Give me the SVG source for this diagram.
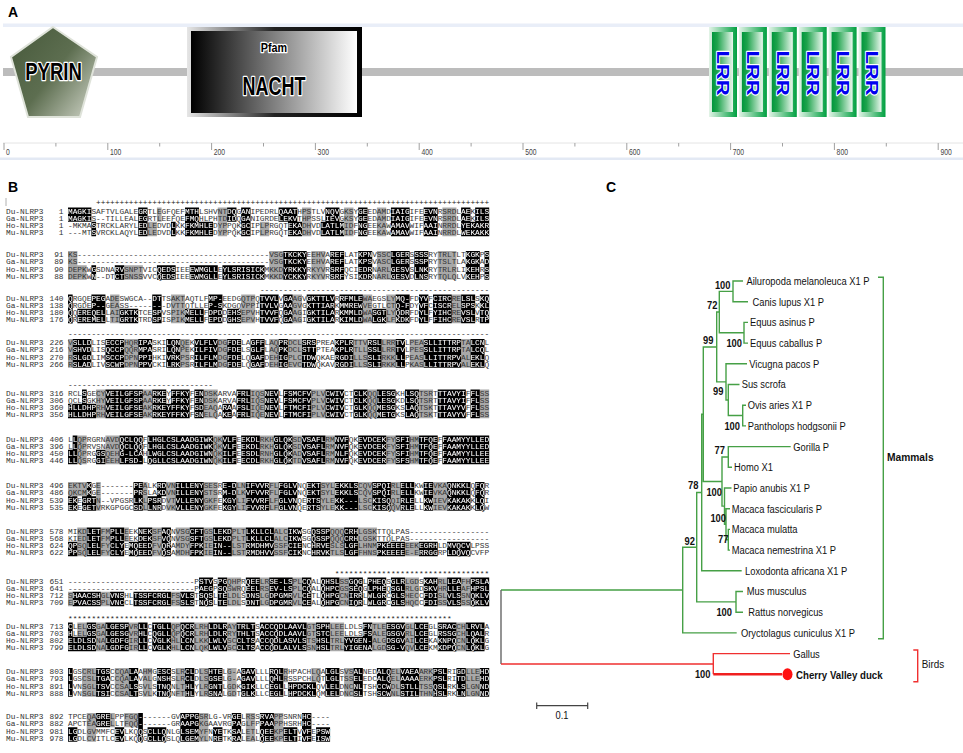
<svg xmlns="http://www.w3.org/2000/svg" width="963" height="753" viewBox="0 0 963 753">
<style>
.lab{font-family:"Liberation Sans",Arial,sans-serif;font-weight:bold;font-size:14px;fill:#000}
.sq{font-family:"Liberation Mono","Courier New",monospace;font-size:7.8px}
.nm{font-family:"Liberation Mono","Courier New",monospace;font-size:7.8px;fill:#333}
.mk{font-family:"Liberation Mono","Courier New",monospace;font-size:7.8px;fill:#222}
.tk{stroke:#a0a0a0;stroke-width:1}
.rl{font-family:"Liberation Sans",Arial,sans-serif;font-size:8.5px;fill:#444}
.g{stroke:#46a046;stroke-width:1.4;fill:none}
.r{stroke:#f03030;stroke-width:1.4;fill:none}
.sp{font-family:"Liberation Sans",Arial,sans-serif;font-size:11px;fill:#111}
.bs{font-family:"Liberation Sans",Arial,sans-serif;font-size:11px;font-weight:bold;fill:#111;text-anchor:end}
.ol{stroke:#fff;stroke-width:2.5;paint-order:stroke;stroke-linejoin:round}
.dom{font-family:"Liberation Sans",Arial,sans-serif;font-weight:bold;fill:#000;text-anchor:middle}
.lrr{font-family:"Liberation Sans",Arial,sans-serif;font-weight:bold;font-size:22px;fill:#0000ee;text-anchor:middle}
</style>
<defs>
<linearGradient id="pyr" x1="0" y1="0.2" x2="1" y2="1"><stop offset="0" stop-color="#4a5c3e"/><stop offset="0.45" stop-color="#5d6e50"/><stop offset="1" stop-color="#d4d8cc"/></linearGradient>
<linearGradient id="nf" x1="0" y1="0" x2="1" y2="0"><stop offset="0" stop-color="#e6e6e6"/><stop offset="0.5" stop-color="#222"/><stop offset="1" stop-color="#000"/></linearGradient>
<linearGradient id="ni" x1="0" y1="0" x2="1" y2="0"><stop offset="0" stop-color="#000"/><stop offset="1" stop-color="#fff"/></linearGradient>
<linearGradient id="lo" x1="0" y1="0" x2="1" y2="0"><stop offset="0" stop-color="#e4f4e8"/><stop offset="1" stop-color="#00a040"/></linearGradient>
<linearGradient id="li" x1="0" y1="0" x2="1" y2="0"><stop offset="0" stop-color="#00963c"/><stop offset="0.25" stop-color="#1ea34c"/><stop offset="1" stop-color="#eaf7ee"/></linearGradient>
<g id="bk">
<path transform="translate(68 207.4) scale(4.68 7.2)" d="M0 0h5v2h-5zM5 2h1v2h-1zM15 0h2v4h-2zM22 2h1v2h-1zM25 0h3v4h-3zM28 2h3v2h-3zM34 0h2v2h-2zM37 0h2v4h-2zM45 0h4v2h-4zM47 2h3v2h-3zM54 2h5v2h-5zM55 0h3v2h-3zM62 0h2v4h-2zM69 0h4v4h-4zM76 0h3v4h-3zM84 0h2v4h-2zM86 2h4v2h-4zM87 0h3v2h-3z"/>
<path transform="translate(68 250.9) scale(4.68 7.2)" d="M5 2h1v2h-1zM10 2h2v2h-2zM19 2h4v2h-4zM26 2h6v2h-6zM33 2h9v2h-9zM46 0h5v4h-5zM56 0h3v4h-3zM62 0h3v4h-3zM69 0h4v4h-4zM74 0h3v4h-3zM85 0h3v4h-3zM89 0h1v4h-1z"/>
<path transform="translate(68 294.4) scale(4.68 7.2)" d="M0 0h1v4h-1zM2 2h3v2h-3zM5 0h3v4h-3zM11 2h4v2h-4zM18 0h2v4h-2zM25 2h4v2h-4zM30 0h3v4h-3zM34 2h3v2h-3zM41 0h4v4h-4zM46 0h2v4h-2zM51 0h6v4h-6zM58 0h5v4h-5zM65 2h3v2h-3zM70 0h3v4h-3zM75 0h2v4h-2zM78 0h4v4h-4zM84 0h3v4h-3zM88 0h2v4h-2z"/>
<path transform="translate(68 338.9) scale(4.68 7.2)" d="M1 0h4v4h-4zM8 0h4v4h-4zM15 0h3v4h-3zM21 0h3v4h-3zM27 0h5v4h-5zM34 0h3v4h-3zM39 0h3v4h-3zM45 0h2v4h-2zM50 0h3v4h-3zM57 0h4v4h-4zM64 0h3v4h-3zM70 0h2v4h-2zM76 0h8v4h-8zM86 0h3v4h-3z"/>
<path transform="translate(68 389.4) scale(4.68 7.2)" d="M0 2h6v2h-6zM3 0h1v2h-1zM8 0h8v4h-8zM18 0h3v4h-3zM21 2h1v2h-1zM22 0h4v4h-4zM27 0h2v4h-2zM33 2h2v2h-2zM36 0h3v4h-3zM42 0h3v4h-3zM46 0h6v4h-6zM55 0h4v4h-4zM61 0h3v4h-3zM66 0h4v4h-4zM72 0h3v4h-3zM79 0h6v4h-6zM86 0h2v4h-2z"/>
<path transform="translate(68 435.4) scale(4.68 7.2)" d="M0 2h1v2h-1zM1 0h1v4h-1zM6 2h2v2h-2zM11 0h5v4h-5zM17 0h14v4h-14zM33 0h3v4h-3zM37 0h4v4h-4zM44 0h4v4h-4zM50 0h5v4h-5zM57 0h3v4h-3zM62 0h6v4h-6zM70 0h3v4h-3zM75 0h4v4h-4zM80 0h10v4h-10z"/>
<path transform="translate(68 481.9) scale(4.68 7.2)" d="M0 2h2v2h-2zM3 2h3v2h-3zM4 0h1v2h-1zM14 0h2v4h-2zM17 2h3v2h-3zM19 0h2v2h-2zM23 0h6v4h-6zM33 0h3v4h-3zM38 0h5v4h-5zM45 0h4v4h-4zM51 0h3v4h-3zM57 0h5v4h-5zM65 0h4v4h-4zM71 0h3v4h-3zM76 0h2v4h-2zM81 0h5v4h-5zM87 0h2v4h-2z"/>
<path transform="translate(68 527.4) scale(4.68 7.2)" d="M0 2h2v2h-2zM4 0h3v4h-3zM9 0h3v4h-3zM13 2h2v2h-2zM15 0h3v4h-3zM20 0h2v4h-2zM26 0h3v4h-3zM31 0h4v4h-4zM38 0h6v4h-6zM47 0h3v4h-3zM52 0h4v4h-4zM59 0h3v4h-3zM66 2h6v2h-6zM75 2h4v2h-4zM81 2h5v2h-5z"/>
<path transform="translate(68 577.4) scale(4.68 7.2)" d="M1 2h6v2h-6zM9 2h3v2h-3zM14 2h8v2h-8zM24 2h3v2h-3zM28 0h3v4h-3zM32 0h2v4h-2zM38 0h3v4h-3zM43 0h5v4h-5zM50 0h2v4h-2zM54 0h4v4h-4zM60 0h3v4h-3zM64 0h4v4h-4zM69 0h3v4h-3zM76 0h3v4h-3zM81 0h3v4h-3zM86 0h4v4h-4z"/>
<path transform="translate(68 622.4) scale(4.68 7.2)" d="M0 0h1v2h-1zM0 2h4v2h-4zM4 0h2v4h-2zM8 0h5v4h-5zM15 0h2v4h-2zM18 0h4v4h-4zM24 0h3v4h-3zM30 0h4v4h-4zM36 0h4v4h-4zM41 0h10v4h-10zM53 0h3v4h-3zM59 2h4v2h-4zM63 0h2v4h-2zM68 0h4v4h-4zM74 0h3v4h-3zM79 0h4v4h-4zM85 0h4v4h-4z"/>
<path transform="translate(68 667.9) scale(4.68 7.2)" d="M0 0h1v4h-1zM6 0h3v4h-3zM13 0h2v4h-2zM19 0h3v4h-3zM25 0h2v4h-2zM30 0h3v4h-3zM37 0h3v4h-3zM43 0h3v4h-3zM47 2h6v2h-6zM55 0h3v4h-3zM61 0h2v4h-2zM66 0h3v4h-3zM71 0h4v4h-4zM78 0h3v4h-3zM83 0h2v4h-2zM88 0h2v4h-2z"/>
<path transform="translate(68 712.9) scale(4.68 7.2)" d="M0 2h2v2h-2zM6 0h3v2h-3zM10 2h2v2h-2zM15 0h1v4h-1zM17 2h4v2h-4zM24 0h4v4h-4zM31 2h2v2h-2zM35 0h2v4h-2zM41 0h3v4h-3zM46 2h3v2h-3zM50 0h2v4h-2zM53 2h3v2h-3z"/>
</g>
<mask id="bm" maskUnits="userSpaceOnUse" x="0" y="0" width="963" height="753"><use href="#bk" fill="#fff"/></mask>
<g id="seq" class="sq">
<text x="68" y="213.6">MAGKISAFTVLGALEGRTLEGFQEFMTHLSHVNTDQGANIPEDRLQAATHPSTLVNQVGKSYGEEDAMDIAIGIFEEVNRSRDLAEKILS</text>
<text x="68" y="220.8">MAGKIS--TILLEALEGRTLEEFQEFMQHLPHTDIDQGANIGRDELEKVTHPSSLIEVGKSYGEEDAMDIAIGIFEEVNRSRDLAEKILS</text>
<text x="68" y="228">-MKMASTRCKLARYLEDLEDVDLKKFKMHLEDYPPQKGCIPLPRGQTEKADHVDLATLMIDFNGEEKAWAMAVWIFAAINRRDLYEKAKR</text>
<text x="68" y="235.2">---MTSVRCKLAQYLEDLEDVDLKKFKMHLEDYPPQKGCIPLPRGQTEKADHVDLATLMIDFNGEEKAWAMAVWIFAAINRRDLWEKAKK</text>
<text x="68" y="257.1">KS-----------------------------------------VSGTKCKYEEHVAREFLATKPNVSSCLGERSSSSRYTRLTLTKGKPS</text>
<text x="68" y="264.3">KS-----------------------------------------VSGTKCKYEEHVAREFLATKPSVASCLGERSSSPRYTSLTLAKGKAD</text>
<text x="68" y="271.5">DEPKWGSDNARVSNPTVICQEDSIEEEWMGLLEYLSRISICKMKKDYRKKYRKYVRSRFQCIEDRNARLGESVSLNKRYTRLRLIKEHRS</text>
<text x="68" y="278.7">DEPKWN--DTCTSNSSVVCQEDSIEEEWMGLLEYLSRISICKMKKDYCKKYRKYVRSRFYSIKDRNARLGESVDLNSRYTQLQLVKEHPS</text>
<text x="68" y="300.6">QRGQEPEGADESWGCA--DTTSAKTAQTLFMP-EEDGQTPQTVVLVGAAGVGKTTLVRRFMLEWAEGSLYMQ-FDYVFCIRCRELSLSKQ</text>
<text x="68" y="307.8">QRGDEP--GEASS--------DVTTQTLLEP-SKDGQVPPITVLVGAAGVGKTTIARKMMREWVEGTLCTQ-FDYVFCISCRELSPSKKL</text>
<text x="68" y="315">QQEREQELLAIGKTKTCESPVSPIKMELLFDPDDEHSEPVHTVVFQGAAGIGKTILARKMMLDWASGTLYQDRFDYLFYIHCREVSLVTQ</text>
<text x="68" y="322.2">QREREMELLTIGRTKTRDSPISPIKMELLFEPDDGHSEPVHTVVFQGAAGIGKTILARKIMLDWALGKLFKDKFDYLFFIHCREVSLRTP</text>
<text x="68" y="345.1">VSLLDLISECCPHQRIPASKILQNQEKVLFLVDGFDELAGFFLAQPRDCLSRSPREAKPLRTTVRSLLRRTVLPEASLLITTRPTALCNL</text>
<text x="68" y="352.3">VSHVDLISQCCPQQRMPASRILQNPEKILFIVDGFDELSGLFLAQPKDCLSTTPTEAKPLRTLLSSLLRRTVLPESSLLITTRPTALCQL</text>
<text x="68" y="359.5">RSLGDLIMSCCPDPNPPIHKIVRKPSRILFLMDGFDELQGAFDEHIGPLCTDWQKAERGDILLSSLIRKKLLPEASLLITTRPVALEKLQ</text>
<text x="68" y="366.7">RSLADLIVSCWPDPNPPVCKILRKPSRILFLMDGFDELQGAFDEHIGEVCTDWQKAVRGDILLSSLIRKKLLPKASLLITTRPVALEKLQ</text>
<text x="68" y="395.6">RCLSGECYVEILGFSPAARKEYFFKYFENDSKARVAFRLIQSNEVLFSMCFVPLVCWIVCTCLKQQLESGKHLSQTSRTTTAVYIFFLSS</text>
<text x="68" y="402.8">QCLSGKHYVEILGFSPAARKEYFFKYFENDSKARVAFRLIQSNEVLFSMCFVPLVCWIVCTCLKQQLESGKDLSQTSRTTTAVYIFFLSS</text>
<text x="68" y="410">HLLDHPRHVEILGFSEAKRKEYFFKYFSDEAQARAAFSLIQENEVLFTMCFIPLVCWIVCTGLKQQMESGKSLAQTSKTTTAVYVFFLSS</text>
<text x="68" y="417.2">HLLDHPRHVEILGFSEAKRKEYFFKYFSNELQAKEAFRLIQENEVLFTMCFIPLVCWIVCTGLKQQMETGKSLAQTSKTTTAVYVFFLSS</text>
<text x="68" y="441.6">LLQPRGRNAVDQCLQQFLHGLCSLAADGIWKQKVLFEEKDLRKHGLQKSDVSAFLRMNVFQKEVDCEKFYSFIHMTFQEFFAAMYYLLED</text>
<text x="68" y="448.8">LLQPRVSNAVDQCLQQFLHGLCSLAADGIWKQKVLFEEKDLRKHGLQKSDVSAFLRMNVFQKEVDCEKFYSFIHMTFQEFFAAMYYLLED</text>
<text x="68" y="456">LLQPRGGSQEHG-LCAHLWGLCSLAADGIWNQKILFEESDLRNHGLQKADVSAFLRMNLFQKEVDCEKFYSFIHMTFQEFFAAMYYLLEE</text>
<text x="68" y="463.2">LLQSRGGIEEHLFSD-LQGLLCSLAADGIWNQKILFEECDLRKHGLQKTDVSAFLRMNVFQKEVDCERFYSFSHMTFQEFFAAMYYLLEE</text>
<text x="68" y="488.1">EKTVKGE-------PEALKRDVNILLENYSESRE-DLNIFVVRFLFGLVNQEKTSYLEKKLSCQVSPQIRLELLKWIEVKAQNKKLQFQR</text>
<text x="68" y="495.3">QKCMKGE-------PRSLAKDVNILLENYSTSRM-DLKVFVVRFLFGLVNQEKTSYLEKKLSCQVSPQIRLELLKWIEVKAQNKKLQFQR</text>
<text x="68" y="502.5">EKEGRTN--VPGSRLKLPSRDVTVLLENYGKFEKGYLIFVVRFLFGLVNQERTSYLEKK---LSCKISQQIRLELLKWIEVKAKAKKLQI</text>
<text x="68" y="509.7">EKEGETVRKGPGGCSDLLNRDVKVLLENYGKFEKGYLIFVVRFLFGLVNQERTSYLEKK---LSCKISQQVRLELLKWIEVKAKAKKLQW</text>
<text x="68" y="533.6">MIKDLETFMPLLEEKNEKSFAQNVSGCFTGSLEKDPLTLKLLCLALCIKWSGQSSPQQQCRHLGSKTTQLPAS-----------------</text>
<text x="68" y="540.8">KIEDLETFMPLLEEKDEKSFVQNVSGSFTGSLEKDPLTLKLLCLALCIKWSGQSSPQQQCRHLGSKTTQLPAS-----------------</text>
<text x="68" y="548">QPSQLELFYCLYEMQEEDFVQRAMDYFPKIEIN--LSTRMDHMVSSFCIENCHRVESLSLGFLHNMPKEEEEEEKEGRHLDMVQCVLPSS</text>
<text x="68" y="555.2">PPSQLELFYCLYEMQEEDFVQSAMDHFPKIEIN--LSTRMDHVVSSFCIKNCHRVKTLSLGFFHNSPKEEEEE-ERRGGRPLDQVQCVFP</text>
<text x="68" y="583.6">---------------------------PSTVSPGQHPRQEELRSE-LSPLCQALQHSLSSGQGLPHEQSGLRLGDSKAHRLLEAFHPSLA</text>
<text x="68" y="590.8">---------------------------PAEGPSQSWRQEELRSEV-LSPLCQALQHPCGSSEQGLPHEQSGLRLGDSKVHRLLEAFHPSL</text>
<text x="68" y="598">SHAACSHGLVNSHLTSSFCRGLFSVLSTSQSLTELDLSDNSLGDPGMRVLCETLQHPGCNIRRLWLGRCGLSHECCFDISLVLSSNQKLV</text>
<text x="68" y="605.2">EPVACSSPLVNCCLTSSFCRGLFSSLSTNQSLTELDLSDNTLGDPGMRVLCEALQHPGCNIQRLWLGRCGLSHQCCFDISSVLSSSQKLV</text>
<text x="68" y="628.6">CLELGSGALGESPVRLLCTGLLQPQCRLRHLDLRAYTRLTSACCQDLAAVLGTSPHLEELDLSFNTLEESGVGLLCEGLSRACCHLRVLA</text>
<text x="68" y="635.8">HLELGSGALGESGVRHLCQGLLQPQCRLRHLDLRRYTHLTSACCQDLAAVLGTSTCLEELDLSFSALEGSGVRLLCEGLRSSGCHLQALR</text>
<text x="68" y="643">ELDLSDNALGDFGIRLLCVGLKHLLCNLKKLWLVSCCLTSACCQDLASVLSTSHSLTRLYVGEN-ALGDSGVAILCEKAKNPQCNLQKLG</text>
<text x="68" y="650.2">ELDLSDNALGDFGIRLLCVGLKHLLCNLQKLWLVSCCLTSACCQDLALVLSSNHSLTRLYIGENALGDSG-VQVLCEKMKDPQCNLQKLG</text>
<text x="68" y="674.1">LGSCRLTGSCCQALAAHMGESCSLRCLDLSHTELG-AGAVLLLRQLRHPACHLQALGLSVSALNEDALQELVAEAARKPSLRIGDLLEHD</text>
<text x="68" y="681.3">LGSCSLTGACCQALAVALGNSHSLRCLDLSGSELG-AGAVLLLQHLRSSPCHLQTLGLTSSELEDCALQELAAAAERKPSLRITDLLEHD</text>
<text x="68" y="688.5">LVNSGLTSVCCSALSSVLSTNQNLTHLYLRGNTLGDKGIKLLCEGLLHPDCKLQVLELDNCNLTSHCCWDLSTLLTSSQSLRKLSLGNND</text>
<text x="68" y="695.7">LVNSGLTSICCSALTSVLKTNQNFTHLYLRSNALGDTGLKLLCEGLLHPDCKLQMLELDNCSLTSHSCWNLSTILTHNHSLRKLNLGNND</text>
<text x="68" y="719.1">TPCEQAGRELPPFGQ-------GVAPPGSRLG-VRGELRSSRVAPPSNRNHC----</text>
<text x="68" y="726.3">APCTEAGRELLTFQQ-------GRAAPGKGAAVRGPAGLFPPAAPPHSRHHC----</text>
<text x="68" y="733.5">LGDLGVMMFCEVLKQQSCLLQNLGLSEMYFNYETKSALETLQEEKPELTVVFEPSW</text>
<text x="68" y="740.7">LGDLCVITLCEVLKQQGCLLQSLQLGEMYLNRETKRALEALQEEKPELTIVFEISW</text>
</g>
</defs>

<rect width="963" height="753" fill="#fff"/>

<g id="panelA">
<text class="lab" x="8" y="17">A</text>
<rect x="3" y="23.5" width="960" height="3.5" fill="#e9eef8"/>
<rect x="3" y="68" width="960" height="8" fill="#bcbcbc"/>
<line x1="3" y1="143" x2="963" y2="143" stroke="#e4e4e4"/>
<rect x="0" y="157.5" width="963" height="2.5" fill="#e3e9f4"/>
<g id="ruler">
<path class="tk" d="M4 143v7M107.8 143v7M211.6 143v7M315.4 143v7M419.2 143v7M523 143v7M626.8 143v7M730.6 143v7M834.4 143v7M938.2 143v7M55.9 143v3.5M159.7 143v3.5M263.5 143v3.5M367.3 143v3.5M471.1 143v3.5M574.9 143v3.5M678.7 143v3.5M782.5 143v3.5M886.3 143v3.5"/>
<text class="rl" transform="translate(6 154.5) scale(.8 1)">0</text>
<text class="rl" transform="translate(110 154.5) scale(.8 1)">100</text>
<text class="rl" transform="translate(213.8 154.5) scale(.8 1)">200</text>
<text class="rl" transform="translate(317.6 154.5) scale(.8 1)">300</text>
<text class="rl" transform="translate(421.4 154.5) scale(.8 1)">400</text>
<text class="rl" transform="translate(525.2 154.5) scale(.8 1)">500</text>
<text class="rl" transform="translate(629 154.5) scale(.8 1)">600</text>
<text class="rl" transform="translate(732.8 154.5) scale(.8 1)">700</text>
<text class="rl" transform="translate(836.6 154.5) scale(.8 1)">800</text>
<text class="rl" transform="translate(940.4 154.5) scale(.8 1)">900</text>
</g>
<g id="pyrin">
<polygon points="53,27 97,57 80,117 28,117 11,57" fill="url(#pyr)" stroke="#dfe3da" stroke-width="2"/>
<text class="dom ol" font-size="23.5" transform="translate(53.5 80) scale(.79 1)">PYRIN</text>
</g>
<g id="nacht">
<rect x="187" y="27" width="175" height="90" fill="url(#nf)"/>
<rect x="191" y="31" width="166" height="82" fill="url(#ni)"/>
<text class="dom ol" font-size="12" transform="translate(274 51.5) scale(.9 1)">Pfam</text>
<text class="dom ol" font-size="25" transform="translate(274 94.5) scale(.72 1)">NACHT</text>
</g>
<g id="lrr1"><rect x="709" y="27" width="28" height="90" fill="url(#lo)"/><rect x="712" y="32" width="21" height="80" fill="url(#li)"/><text class="lrr ol" transform="translate(723 73) rotate(90) scale(1 .72)" y="7.9">LRR</text></g>
<g id="lrr2"><rect x="738.9" y="27" width="28" height="90" fill="url(#lo)"/><rect x="741.9" y="32" width="21" height="80" fill="url(#li)"/><text class="lrr ol" transform="translate(752.9 73) rotate(90) scale(1 .72)" y="7.9">LRR</text></g>
<g id="lrr3"><rect x="768.8" y="27" width="28" height="90" fill="url(#lo)"/><rect x="771.8" y="32" width="21" height="80" fill="url(#li)"/><text class="lrr ol" transform="translate(782.8 73) rotate(90) scale(1 .72)" y="7.9">LRR</text></g>
<g id="lrr4"><rect x="798.7" y="27" width="28" height="90" fill="url(#lo)"/><rect x="801.7" y="32" width="21" height="80" fill="url(#li)"/><text class="lrr ol" transform="translate(812.7 73) rotate(90) scale(1 .72)" y="7.9">LRR</text></g>
<g id="lrr5"><rect x="828.6" y="27" width="28" height="90" fill="url(#lo)"/><rect x="831.6" y="32" width="21" height="80" fill="url(#li)"/><text class="lrr ol" transform="translate(842.6 73) rotate(90) scale(1 .72)" y="7.9">LRR</text></g>
<g id="lrr6"><rect x="858.5" y="27" width="27" height="90" fill="url(#lo)"/><rect x="861.5" y="32" width="20" height="80" fill="url(#li)"/><text class="lrr ol" transform="translate(872 73) rotate(90) scale(1 .72)" y="7.9">LRR</text></g>
</g>

<g id="panelB">
<text class="lab" x="8" y="192">B</text>
<line x1="6" y1="198" x2="6" y2="206" stroke="#b0b0b0"/>
<g id="gray" fill="#a8a8a8">
<path transform="translate(68 207.4) scale(4.68 7.2)" d="M17 2h2v2h-2zM32 0h2v4h-2zM41 2h2v2h-2zM50 0h2v4h-2zM59 0h2v4h-2zM66 0h2v4h-2zM80 0h3v4h-3zM19 0h1v2h-1z"/>
<path transform="translate(68 250.9) scale(4.68 7.2)" d="M0 0h2v2h-2zM0 2h4v2h-4zM12 2h4v2h-4zM43 0h3v4h-3zM52 0h3v4h-3zM66 0h3v4h-3zM79 0h4v4h-4z"/>
<path transform="translate(68 294.4) scale(4.68 7.2)" d="M9 0h2v4h-2zM22 0h3v4h-3zM37 0h3v4h-3zM48 0h2v4h-2zM63 0h2v4h-2zM68 0h2v4h-2zM82 0h2v4h-2z"/>
<path transform="translate(68 338.9) scale(4.68 7.2)" d="M0 0h1v4h-1zM12 0h3v4h-3zM24 0h2v4h-2zM32 0h2v4h-2zM43 0h2v4h-2zM47 0h3v4h-3zM61 0h3v4h-3zM67 0h3v4h-3zM73 0h3v4h-3zM84 0h2v4h-2z"/>
<path transform="translate(68 389.4) scale(4.68 7.2)" d="M6 0h2v4h-2zM16 0h2v4h-2zM29 0h3v4h-3zM39 0h3v4h-3zM52 0h3v4h-3zM64 0h2v4h-2zM75 0h3v4h-3zM88 0h2v4h-2z"/>
<path transform="translate(68 435.4) scale(4.68 7.2)" d="M2 0h2v4h-2zM8 0h3v4h-3zM31 0h2v4h-2zM41 0h3v4h-3zM48 0h2v4h-2zM55 0h2v4h-2zM68 0h2v4h-2zM73 0h2v4h-2z"/>
<path transform="translate(68 481.9) scale(4.68 7.2)" d="M0 0h4v2h-4zM6 0h1v4h-1zM16 0h1v4h-1zM21 0h2v4h-2zM29 0h3v4h-3zM36 0h2v4h-2zM43 0h2v4h-2zM54 0h3v4h-3zM62 0h3v4h-3zM69 0h2v4h-2zM78 0h3v4h-3z"/>
<path transform="translate(68 527.4) scale(4.68 7.2)" d="M2 0h2v4h-2zM7 0h2v4h-2zM12 0h1v2h-1zM18 0h2v4h-2zM23 0h3v4h-3zM29 0h2v4h-2zM35 0h3v4h-3zM44 0h3v4h-3zM56 0h3v4h-3zM62 0h4v4h-4zM72 2h3v2h-3z"/>
<path transform="translate(68 577.4) scale(4.68 7.2)" d="M0 2h1v2h-1zM7 2h2v2h-2zM22 2h2v2h-2zM34 0h3v4h-3zM41 0h2v4h-2zM48 0h2v4h-2zM58 0h2v4h-2zM72 0h3v4h-3zM79 0h2v4h-2zM84 0h2v4h-2z"/>
<path transform="translate(68 622.4) scale(4.68 7.2)" d="M2 0h2v2h-2zM6 0h2v4h-2zM13 0h2v4h-2zM22 0h2v4h-2zM27 0h3v4h-3zM34 0h2v4h-2zM51 0h2v4h-2zM56 0h3v4h-3zM65 0h3v4h-3zM72 0h2v4h-2zM83 0h2v4h-2z"/>
<path transform="translate(68 667.9) scale(4.68 7.2)" d="M3 0h3v4h-3zM10 0h3v4h-3zM16 0h2v4h-2zM23 0h2v4h-2zM28 0h2v4h-2zM34 0h2v4h-2zM46 0h1v2h-1zM52 0h2v2h-2zM59 0h2v4h-2zM69 0h2v4h-2zM75 0h3v4h-3zM85 0h3v4h-3z"/>
<path transform="translate(68 712.9) scale(4.68 7.2)" d="M4 0h2v4h-2zM9 0h1v2h-1zM12 0h3v2h-3zM28 0h2v4h-2zM38 0h2v4h-2zM44 0h2v4h-2z"/>
</g>
<use href="#bk" fill="#000"/>
<use href="#seq" fill="#333"/>
<use href="#seq" fill="#fff" mask="url(#bm)"/>
<g id="markers" class="mk">
<text x="96.08" y="205">++++++++++++++++++++++++++++++++++++++++++++++++++++++++++++++++++++++++++++++++++++</text>
<text x="259.9" y="291.5">-------------------------------------------------</text>
<text x="68" y="336">------------------------------------------------------------------------------------------</text>
<text x="68" y="386.5">-------------------------------</text>
<text x="334.8" y="576">*********************************</text>
<text x="68" y="621">**********************************************************************************</text>
</g>
<g id="rowlabels" class="nm">
<text x="6" y="213.6">Du-NLRP3</text><text x="6" y="220.8">Ga-NLRP3</text><text x="6" y="228">Ho-NLRP3</text><text x="6" y="235.2">Mu-NLRP3</text>
<text x="6" y="257.1">Du-NLRP3</text><text x="6" y="264.3">Ga-NLRP3</text><text x="6" y="271.5">Ho-NLRP3</text><text x="6" y="278.7">Mu-NLRP3</text>
<text x="6" y="300.6">Du-NLRP3</text><text x="6" y="307.8">Ga-NLRP3</text><text x="6" y="315">Ho-NLRP3</text><text x="6" y="322.2">Mu-NLRP3</text>
<text x="6" y="345.1">Du-NLRP3</text><text x="6" y="352.3">Ga-NLRP3</text><text x="6" y="359.5">Ho-NLRP3</text><text x="6" y="366.7">Mu-NLRP3</text>
<text x="6" y="395.6">Du-NLRP3</text><text x="6" y="402.8">Ga-NLRP3</text><text x="6" y="410">Ho-NLRP3</text><text x="6" y="417.2">Mu-NLRP3</text>
<text x="6" y="441.6">Du-NLRP3</text><text x="6" y="448.8">Ga-NLRP3</text><text x="6" y="456">Ho-NLRP3</text><text x="6" y="463.2">Mu-NLRP3</text>
<text x="6" y="488.1">Du-NLRP3</text><text x="6" y="495.3">Ga-NLRP3</text><text x="6" y="502.5">Ho-NLRP3</text><text x="6" y="509.7">Mu-NLRP3</text>
<text x="6" y="533.6">Du-NLRP3</text><text x="6" y="540.8">Ga-NLRP3</text><text x="6" y="548">Ho-NLRP3</text><text x="6" y="555.2">Mu-NLRP3</text>
<text x="6" y="583.6">Du-NLRP3</text><text x="6" y="590.8">Ga-NLRP3</text><text x="6" y="598">Ho-NLRP3</text><text x="6" y="605.2">Mu-NLRP3</text>
<text x="6" y="628.6">Du-NLRP3</text><text x="6" y="635.8">Ga-NLRP3</text><text x="6" y="643">Ho-NLRP3</text><text x="6" y="650.2">Mu-NLRP3</text>
<text x="6" y="674.1">Du-NLRP3</text><text x="6" y="681.3">Ga-NLRP3</text><text x="6" y="688.5">Ho-NLRP3</text><text x="6" y="695.7">Mu-NLRP3</text>
<text x="6" y="719.1">Du-NLRP3</text><text x="6" y="726.3">Ga-NLRP3</text><text x="6" y="733.5">Ho-NLRP3</text><text x="6" y="740.7">Mu-NLRP3</text>
</g>
<g id="rownums" class="nm" text-anchor="end">
<text x="63.5" y="213.6">1</text><text x="63.5" y="220.8">1</text><text x="63.5" y="228">1</text><text x="63.5" y="235.2">1</text>
<text x="63.5" y="257.1">91</text><text x="63.5" y="264.3">89</text><text x="63.5" y="271.5">90</text><text x="63.5" y="278.7">88</text>
<text x="63.5" y="300.6">140</text><text x="63.5" y="307.8">138</text><text x="63.5" y="315">180</text><text x="63.5" y="322.2">176</text>
<text x="63.5" y="345.1">226</text><text x="63.5" y="352.3">216</text><text x="63.5" y="359.5">270</text><text x="63.5" y="366.7">266</text>
<text x="63.5" y="395.6">316</text><text x="63.5" y="402.8">306</text><text x="63.5" y="410">360</text><text x="63.5" y="417.2">356</text>
<text x="63.5" y="441.6">406</text><text x="63.5" y="448.8">396</text><text x="63.5" y="456">450</text><text x="63.5" y="463.2">446</text>
<text x="63.5" y="488.1">496</text><text x="63.5" y="495.3">486</text><text x="63.5" y="502.5">539</text><text x="63.5" y="509.7">535</text>
<text x="63.5" y="533.6">578</text><text x="63.5" y="540.8">568</text><text x="63.5" y="548">624</text><text x="63.5" y="555.2">622</text>
<text x="63.5" y="583.6">651</text><text x="63.5" y="590.8">641</text><text x="63.5" y="598">712</text><text x="63.5" y="605.2">709</text>
<text x="63.5" y="628.6">713</text><text x="63.5" y="635.8">703</text><text x="63.5" y="643">802</text><text x="63.5" y="650.2">799</text>
<text x="63.5" y="674.1">803</text><text x="63.5" y="681.3">793</text><text x="63.5" y="688.5">891</text><text x="63.5" y="695.7">888</text>
<text x="63.5" y="719.1">892</text><text x="63.5" y="726.3">882</text><text x="63.5" y="733.5">981</text><text x="63.5" y="740.7">978</text>
</g>
</g>

<g id="panelC">
<text class="lab" x="606" y="192">C</text>
<g id="connectors">
<path class="g" d="M743 281H733V301.7H748M748 322.4H744V343.1H748M733 291.35H719.3V332.75H744M746 405.2H742.7V425.9H746M739.5 384.5H728.3V415.55H742.7M747 363.8H726V400H728.3M719.3 312.05H716.7V381.9H726M790.7 446.6H728.3V467.3H732M730 529.4H728.3V550.1H730M730 508.7H726V539.75H728.3M731.5 488H724.5V524.2H726M728.3 456.95H722V506.1H724.5M716.7 347H703.3V481.5H722M703.3 414.25H701.7V570.8H741.7M743 591.5H736V612.2H743M701.7 492.5H696.7V601.85H736M696.7 547.2H682.7V632.9H736.7M682.7 590H501"/>
<path d="M501 590V663.95" stroke="#666" stroke-width="1.4" fill="none"/>
<path class="r" d="M501 663.95H713.3M790 653.6H713.3V674.3"/>
<path d="M713.3 674.3H782" stroke="#f02020" stroke-width="2.4" fill="none"/>
<path class="g" d="M878 277.3H883.3V638.7H878"/>
<path class="r" d="M913.3 650H917.7V681.7H913.3"/>
<path d="M536.7 705.7H587.7M536.7 702.5V709M587.7 702.5V709" stroke="#444" stroke-width="1.2" fill="none"/>
</g>
<g id="leaves" class="sp">
<text transform="translate(746.5 284.9) scale(.85 1)">Ailuropoda melanoleuca X1 P</text>
<text transform="translate(752.5 305.6) scale(.85 1)">Canis lupus X1 P</text>
<text transform="translate(750 326.3) scale(.85 1)">Equus asinus P</text>
<text transform="translate(750 347) scale(.85 1)">Equus caballus P</text>
<text transform="translate(749.3 367.7) scale(.85 1)">Vicugna pacos P</text>
<text transform="translate(741.7 388.4) scale(.85 1)">Sus scrofa</text>
<text transform="translate(747.7 409.1) scale(.85 1)">Ovis aries X1 P</text>
<text transform="translate(747.7 429.8) scale(.85 1)">Pantholops hodgsonii P</text>
<text transform="translate(793.3 450.5) scale(.85 1)">Gorilla P</text>
<text transform="translate(734 471.2) scale(.85 1)">Homo X1</text>
<text transform="translate(733.3 491.9) scale(.85 1)">Papio anubis X1 P</text>
<text transform="translate(731.7 512.6) scale(.85 1)">Macaca fascicularis P</text>
<text transform="translate(731.7 533.3) scale(.85 1)">Macaca mulatta</text>
<text transform="translate(731.7 554) scale(.85 1)">Macaca nemestrina X1 P</text>
<text transform="translate(745 574.7) scale(.85 1)">Loxodonta africana X1 P</text>
<text transform="translate(746.7 595.4) scale(.85 1)">Mus musculus</text>
<text transform="translate(748.3 616.1) scale(.85 1)">Rattus norvegicus</text>
<text transform="translate(741 636.8) scale(.85 1)">Oryctolagus cuniculus X1 P</text>
<text transform="translate(793.3 657.5) scale(.85 1)">Gallus</text>
</g>
<g id="duck">
<ellipse cx="787.5" cy="674.3" rx="5" ry="6" fill="#ff1010"/>
<text class="sp" font-weight="bold" font-size="12" transform="translate(796 678.6) scale(.88 1)">Cherry Valley duck</text>
</g>
<g id="bootstrap" class="bs">
<text transform="translate(730.5 288.5) scale(.85 1)">100</text>
<text transform="translate(717.5 308.5) scale(.85 1)">72</text>
<text transform="translate(713.5 343.5) scale(.85 1)">99</text>
<text transform="translate(742 347) scale(.85 1)">100</text>
<text transform="translate(723.5 394.5) scale(.85 1)">99</text>
<text transform="translate(740 429.5) scale(.85 1)">100</text>
<text transform="translate(725 453.5) scale(.85 1)">77</text>
<text transform="translate(698.5 489) scale(.85 1)">78</text>
<text transform="translate(722 496) scale(.85 1)">100</text>
<text transform="translate(726 521.5) scale(.85 1)">100</text>
<text transform="translate(728.5 543) scale(.85 1)">77</text>
<text transform="translate(695 545) scale(.85 1)">92</text>
<text transform="translate(732 615.5) scale(.85 1)">100</text>
<text transform="translate(710.5 677.5) scale(.85 1)">100</text>
</g>
<g id="groups">
<text class="sp" font-weight="bold" transform="translate(887 461) scale(.93 1)">Mammals</text>
<text class="sp" font-size="12" transform="translate(921.7 668.3) scale(.9 1)">Birds</text>
<text class="sp" font-size="9" text-anchor="middle" transform="translate(562 718.5) scale(.85 1)">0.1</text>
</g>
</g>
</svg>
